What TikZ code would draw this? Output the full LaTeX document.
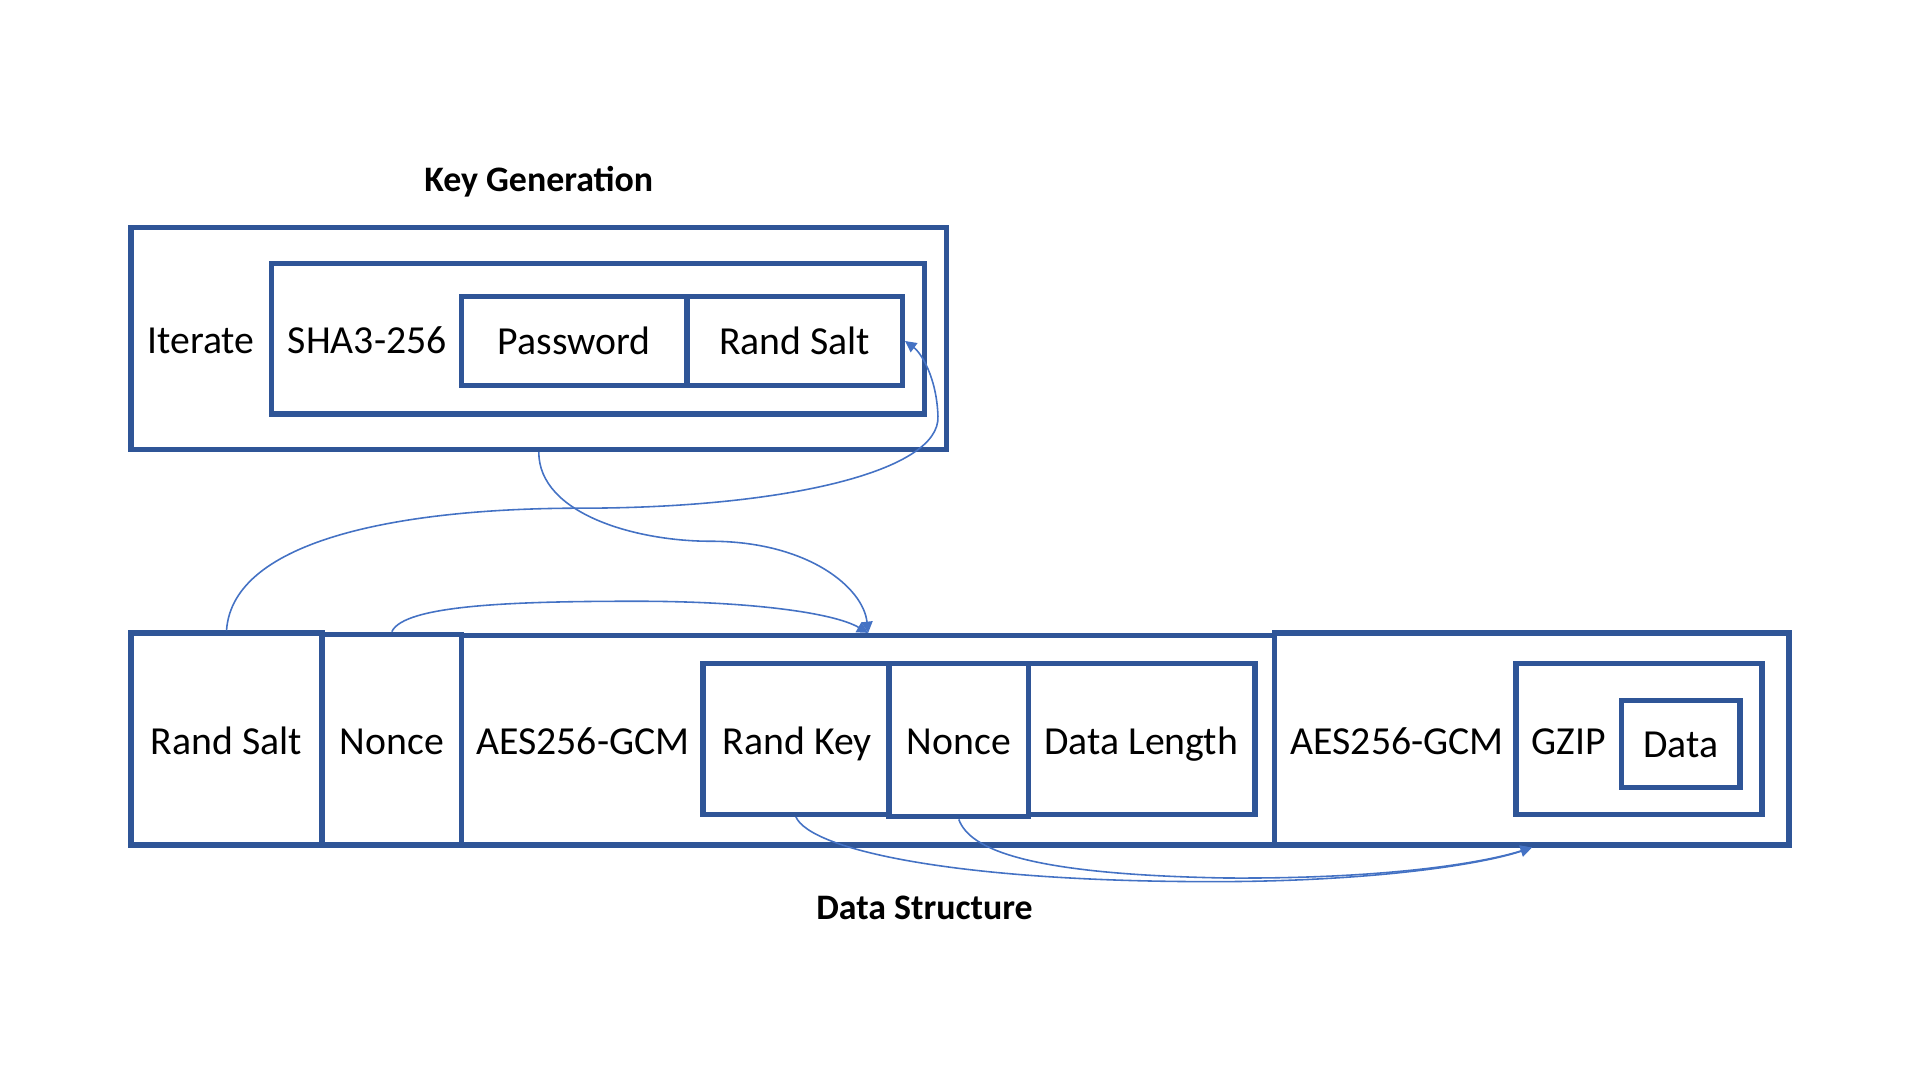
\documentclass[tikz,border=0pt]{standalone}
\usepackage{fontspec}
\setmainfont{Carlito}
\usepackage{tikz}
\usetikzlibrary{positioning,fit,arrows.meta}
\definecolor{boxblue}{RGB}{47,85,151}
\definecolor{linkblue}{RGB}{68,114,196}

\begin{document}
\begin{tikzpicture}[x=0.012245cm, y=-0.012245cm,
    every node/.style={font=\fontsize{11.3}{13.5}\selectfont, text height=1.6ex, text depth=0ex},
    box/.style={draw=boxblue, line width=1.5pt, inner sep=0pt},
    title/.style={font=\fontsize{10.2}{12}\selectfont\bfseries},
    link/.style={draw=linkblue, line width=0.45pt, -{Triangle[length=3.2pt,width=3.2pt]}}]
  \useasboundingbox (0,0) rectangle (1568,882);
  \node[title] (keygen) at (440,145) {Key Generation};
  \node[box, fit={(107,186) (773,367)}] (iterbox) {};
  \node[box, fit={(222,215) (755,338)}] (shabox) {};
  \node[box, fit={(377,242) (561,315)}] (pwd) {};
  \node[box, fit={(561,242) (737,315)}] (salt) {};
  \node (iter) at (164,278) {Iterate};
  \node (sha) at (300,278) {SHA3-256};
  \node (pwdtxt) at (pwd) {Password};
  \node (salttxt) at (salt) {Rand Salt};

  \node[box, fit={(107,517) (263,690)}] (salt2) {};
  \node[box, fit={(263,518) (377,690)}] (nonce1) {};
  \node[box, fit={(377,519) (1041,690)}] (aes1) {};
  \node[box, fit={(1041,517) (1461,690)}] (aes2) {};
  \node[box, fit={(574,542) (726,665)}] (randkey) {};
  \node[box, fit={(726,542) (840,667)}] (nonce2) {};
  \node[box, fit={(840,542) (1025,665)}] (datalen) {};
  \node[box, fit={(1238,542) (1439,665)}] (gzipbox) {};
  \node[box, fit={(1324,572) (1421,643)}] (data) {};
  \node (salt2txt) at (185,605) {Rand Salt};
  \node (nonce1txt) at (320,605) {Nonce};
  \node (aestxt1) at (476,605) {AES256-GCM};
  \node (randkeytxt) at (651,605) {Rand Key};
  \node (nonce2txt) at (783,605) {Nonce};
  \node (datalentxt) at (932,605) {Data Length};
  \node (aestxt2) at (1141,605) {AES256-GCM};
  \node (gzip) at (1281,605) {GZIP};
  \node (datatxt) at (data) {Data};
  \node[title] (datastruct) at (755,740) {Data Structure};

  \draw[link] (salt2.north) .. controls (190,440) and (330,415) .. (474,415)
    .. controls (640,415) and (768,385) .. (766,340)
    .. controls (765,308) and (752,288) .. (salt.east);
  \draw[link] (iterbox.south) .. controls (440,420) and (520,442) .. (580,442)
    .. controls (660,442) and (705,480) .. (aes1.north);
  \draw[link] (nonce1.north) .. controls (330,494) and (420,491) .. (520,491)
    .. controls (610,491) and (680,500) .. (aes1.north);
  \draw[link] (randkey.south) .. controls (662,694) and (780,720) .. (990,720)
    .. controls (1120,720) and (1210,706) .. (aes2.south);
  \draw[link] (nonce2.south) .. controls (792,694) and (840,714) .. (1000,717)
    .. controls (1130,718) and (1210,705) .. (aes2.south);
\end{tikzpicture}
\end{document}
